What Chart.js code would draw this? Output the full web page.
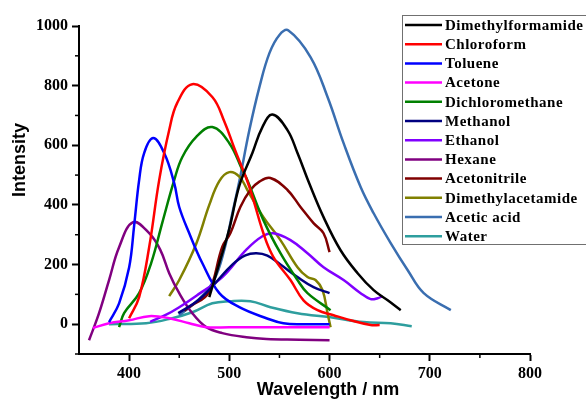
<!DOCTYPE html>
<html>
<head>
<meta charset="utf-8">
<script src="https://cdn.jsdelivr.net/npm/chart.js@4"></script>
<style>
  body { margin: 0; background: #fff; }
</style>
</head>
<body>
<canvas id="chart" width="586" height="402"></canvas>
<script>
const ctx = document.getElementById("chart");

// series (wavelength in nm, intensity)
const dmfX = [480, 490, 500, 510, 523, 533, 543, 558, 568, 580, 594, 611, 628, 644, 658, 671];
const dmfY = [91, 205, 320, 465, 574, 661, 703, 651, 574, 470, 359, 248, 171, 114, 80, 47];

const chloroformX = [400, 410, 420, 430, 440, 448, 463, 483, 495, 505, 520, 534, 544, 561, 574, 588, 604, 621, 641, 650];
const chloroformY = [20, 91, 258, 483, 651, 742, 805, 762, 680, 590, 460, 305, 225, 148, 80, 47, 30, 13, -3, -3];

const tolueneX = [380, 390, 400, 405, 410, 415, 424, 435, 445, 450, 460, 473, 490, 510, 537, 554, 575, 600];
const tolueneY = [7, 70, 190, 330, 483, 574, 624, 574, 473, 393, 305, 205, 104, 57, 20, 3, 0, 0];

const acetoneX = [364, 380, 400, 420, 440, 460, 477, 500, 550, 600];
const acetoneY = [-13, 3, 13, 27, 20, 3, -10, -10, -10, -10];

const dcmX = [390, 395, 410, 422, 433, 445, 453, 467, 483, 500, 513, 518, 534, 551, 568, 578, 601];
const dcmY = [-10, 37, 104, 205, 339, 483, 560, 628, 661, 607, 517, 483, 349, 238, 148, 104, 47];

const methanolX = [449, 469, 486, 503, 516, 527, 538, 551, 568, 584, 600];
const methanolY = [37, 80, 138, 200, 231, 238, 230, 200, 158, 124, 104];

const ethanolX = [421, 436, 450, 469, 493, 517, 533, 544, 561, 578, 594, 614, 631, 641, 648, 653];
const ethanolY = [8, 30, 57, 100, 158, 250, 295, 305, 282, 238, 191, 148, 104, 84, 87, 94];

const hexaneX = [360, 370, 380, 390, 404, 420, 431, 440, 450, 463, 477, 493, 517, 537, 570, 600];
const hexaneY = [-54, 37, 148, 258, 342, 305, 250, 171, 104, 37, -10, -30, -44, -50, -52, -54];

const acetonitrileX = [455, 462, 479, 493, 501, 511, 521, 530, 541, 558, 571, 584, 594, 600];
const acetonitrileY = [45, 62, 104, 260, 305, 393, 450, 478, 490, 450, 393, 339, 305, 242];

const dmaX = [440, 450, 467, 480, 490, 500, 510, 518, 534, 551, 568, 578, 586, 593, 598, 601];
const dmaY = [94, 148, 270, 400, 480, 510, 495, 450, 359, 282, 191, 158, 148, 114, 37, -10];

const aceticX = [450, 470, 485, 495, 503, 510, 520, 530, 540, 550, 559, 581, 598, 614, 631, 644, 661, 678, 694, 721];
const aceticY = [30, 85, 150, 250, 372, 480, 651, 795, 909, 970, 985, 896, 762, 607, 460, 372, 272, 181, 104, 47];

const waterX = [380, 417, 443, 463, 483, 500, 521, 541, 568, 601, 634, 661, 682];
const waterY = [0, 3, 20, 40, 70, 77, 77, 57, 37, 23, 7, 3, -7];

const names = ["Dimethylformamide", "Chloroform", "Toluene", "Acetone", "Dichloromethane", "Methanol",
  "Ethanol", "Hexane", "Acetonitrile", "Dimethylacetamide", "Acetic acid", "Water"];
const colors = ["#000000", "#ff0000", "#0000ff", "#ff00ff", "#008000", "#000080",
  "#8000ff", "#800080", "#800000", "#808000", "#3a6eb0", "#2e9e9e"];
const seriesX = [dmfX, chloroformX, tolueneX, acetoneX, dcmX, methanolX, ethanolX, hexaneX, acetonitrileX, dmaX, aceticX, waterX];
const seriesY = [dmfY, chloroformY, tolueneY, acetoneY, dcmY, methanolY, ethanolY, hexaneY, acetonitrileY, dmaY, aceticY, waterY];

const datasets = names.map((name, i) => ({
  label: name,
  data: seriesX[i].map((x, j) => ({ x: x, y: seriesY[i][j] })),
  borderColor: colors[i],
  backgroundColor: colors[i],
  borderWidth: 2.5,
  pointRadius: 0,
  fill: false,
  tension: 0.4,
}));

const serif = "'Liberation Serif', 'Times New Roman', serif";
const sans = "'Liberation Sans', Arial, sans-serif";

const isMajorX = (v) => v % 100 === 0;
const isMajorY = (v) => v % 200 === 0;

// legend box, short minor ticks and axis titles
const overlay = {
  id: "overlay",
  afterDraw(chart) {
    const c = chart.ctx;
    const xs = chart.scales.x;
    const ys = chart.scales.y;
    c.save();
    c.strokeStyle = "#000";
    c.lineWidth = 1.5;
    xs.ticks.forEach((t) => {
      if (isMajorX(t.value) || t.value === 350) return;
      const px = xs.getPixelForValue(t.value);
      c.beginPath();
      c.moveTo(px, xs.top);
      c.lineTo(px, xs.top + 4);
      c.stroke();
    });
    ys.ticks.forEach((t) => {
      if (isMajorY(t.value)) return;
      const py = ys.getPixelForValue(t.value);
      c.beginPath();
      c.moveTo(ys.right, py);
      c.lineTo(ys.right - 4, py);
      c.stroke();
    });

    c.fillStyle = "#ffffff";
    c.fillRect(402, 15, 190, 229);
    c.strokeStyle = "#707070";
    c.lineWidth = 1;
    c.strokeRect(402.5, 15.5, 190, 229);
    c.font = "bold 15px " + serif;
    c.letterSpacing = "0.5px";
    c.textBaseline = "middle";
    c.fillStyle = "#000";
    chart.data.datasets.forEach((ds, i) => {
      const y = 25 + i * 19.2;
      c.strokeStyle = ds.borderColor;
      c.lineWidth = 2.5;
      c.beginPath();
      c.moveTo(405, y);
      c.lineTo(442, y);
      c.stroke();
      c.fillText(ds.label, 445, y + 1);
    });
    c.letterSpacing = "0px";
    c.font = "bold 18px " + sans;
    c.textAlign = "center";
    c.fillText("Wavelength / nm", 328, 390);
    c.translate(20, 160);
    c.rotate(-Math.PI / 2);
    c.fillText("Intensity", 0, 0);
    c.restore();
  },
};

new Chart(ctx, {
  type: "line",
  data: { datasets: datasets },
  plugins: [overlay],
  options: {
    responsive: false,
    animation: false,
    layout: { padding: { top: 26, right: 56, left: 0, bottom: 0 } },
    scales: {
      x: {
        type: "linear",
        min: 350,
        max: 800,
        afterFit: (s) => { s.height = 48; },
        border: { display: true, color: "#000", width: 2 },
        grid: {
          drawOnChartArea: false,
          tickLength: 7,
          tickColor: (c) => (c.tick && isMajorX(c.tick.value) ? "#000" : "rgba(0,0,0,0)"),
          tickWidth: 2,
        },
        ticks: {
          stepSize: 50,
          padding: 3,
          maxRotation: 0,
          autoSkip: false,
          color: "#000",
          font: { family: serif, size: 16, weight: "bold" },
          callback: (v) => (isMajorX(v) ? v : ""),
        },
      },
      y: {
        min: -100,
        max: 1000,
        afterFit: (s) => { s.width = 79; },
        border: { display: true, color: "#000", width: 2 },
        grid: {
          drawOnChartArea: false,
          tickLength: 7,
          tickColor: (c) => (c.tick && isMajorY(c.tick.value) ? "#000" : "rgba(0,0,0,0)"),
          tickWidth: 2,
        },
        ticks: {
          stepSize: 100,
          padding: 4,
          autoSkip: false,
          color: "#000",
          font: { family: serif, size: 16, weight: "bold" },
          callback: (v) => (isMajorY(v) ? v : ""),
        },
      },
    },
    plugins: {
      legend: { display: false },
      tooltip: { enabled: false },
    },
  },
});
</script>
</body>
</html>
